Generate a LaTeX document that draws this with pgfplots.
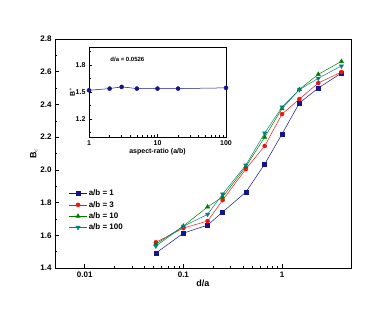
\documentclass[border=0pt]{standalone}
\usepackage{pgfplots}
\pgfplotsset{compat=1.18}
\usepackage{fontspec}
\setmainfont{Liberation Sans}
\definecolor{cnavy}{RGB}{20,20,140}
\definecolor{cred}{RGB}{240,20,20}
\definecolor{cgreen}{RGB}{0,125,0}
\definecolor{cteal}{RGB}{0,128,128}
\begin{document}
\begin{tikzpicture}[x=1pt,y=1pt]
\path[use as bounding box] (0,0) rectangle (390,316);
\begin{axis}[
  at={(55pt,48pt)}, anchor=south west,
  scale only axis, width=296pt, height=229pt,
  xmode=log, xmin=0.005, xmax=5, ymin=1.4, ymax=2.8,
  xtick={0.01,0.1,1}, xticklabels={0.01,0.1,1},
  ytick={1.4,1.6,...,2.8}, minor y tick num=1,
  yticklabel style={/pgf/number format/.cd,fixed,fixed zerofill,precision=1},
  /pgf/number format/assume math mode=true,
  tick align=inside, tick pos=left,
  major tick length=4pt, minor tick length=2pt,
  tick style={black, line width=0.5pt},
  axis line style={line width=0.8pt},
  ticklabel style={font=\fontsize{8}{9}\selectfont\bfseries},
  xlabel={d/a}, ylabel={B$_c$},
  label style={font=\fontsize{9}{10}\selectfont\bfseries},
  xlabel style={yshift=4pt},
  ylabel style={yshift=-4pt},
  legend style={at={(0.044,0.355)}, anchor=north west, draw=none, fill=none,
    font=\fontsize{8}{9}\selectfont\bfseries, row sep=0pt, inner sep=1pt},
  legend cell align=left,
  every axis plot/.append style={line width=0.5pt, mark size=2pt},
]
\addplot[cnavy, mark=square*, mark options={fill=cnavy}] coordinates {
(0.0526,1.491)(0.1,1.613)(0.176,1.662)(0.25,1.742)(0.43,1.864)(0.667,2.035)(1,2.219)(1.5,2.409)(2.33,2.500)(4,2.592)};
\addlegendentry{a/b = 1}
\addplot[cred, mark=*, mark options={fill=cred}] coordinates {
(0.0526,1.557)(0.1,1.644)(0.176,1.687)(0.25,1.815)(0.43,2.005)(0.667,2.146)(1,2.341)(1.5,2.433)(2.33,2.531)(4,2.598)};
\addlegendentry{a/b = 3}
\addplot[cgreen, mark=triangle*, mark options={fill=cgreen}, mark size=2.4pt] coordinates {
(0.0526,1.545)(0.1,1.656)(0.176,1.774)(0.25,1.834)(0.43,2.019)(0.667,2.200)(1,2.374)(1.5,2.492)(2.33,2.584)(4,2.663)};
\addlegendentry{a/b = 10}
\addplot[cteal, mark=triangle*, mark options={fill=cteal, rotate=180}, mark size=2.4pt] coordinates {
(0.0526,1.534)(0.1,1.655)(0.176,1.728)(0.25,1.852)(0.43,2.029)(0.667,2.225)(1,2.384)(1.5,2.490)(2.33,2.560)(4,2.635)};
\addlegendentry{a/b = 100}
\end{axis}
\begin{axis}[
  at={(89pt,179pt)}, anchor=south west,
  scale only axis, width=137pt, height=90pt,
  xmode=log, xmin=1, xmax=100, ymin=1.0, ymax=2.0,
  xtick={1,10,100}, xticklabels={1,10,100},
  ytick={1.2,1.5,1.8}, minor ytick={1.05,1.35,1.65,1.95},
  yticklabel style={/pgf/number format/.cd,fixed,fixed zerofill,precision=1},
  /pgf/number format/assume math mode=true,
  tick align=inside, tick pos=left,
  major tick length=3pt, minor tick length=1.5pt,
  tick style={black, line width=0.5pt},
  axis line style={line width=0.8pt},
  ticklabel style={font=\fontsize{7}{8}\selectfont\bfseries},
  xlabel={aspect-ratio (a/b)}, ylabel={B$^*$},
  label style={font=\fontsize{7}{8}\selectfont\bfseries},
  xlabel style={yshift=4pt},
  ylabel style={yshift=-6pt},
]
\addplot[cnavy, line width=0.5pt, mark=*, mark size=2pt, mark options={fill=cnavy}] coordinates {
(1,1.519)(2,1.538)(3,1.557)(5,1.538)(10,1.538)(20,1.538)(100,1.546)};
\node[font=\fontsize{6}{7}\selectfont\bfseries, anchor=center] at (rel axis cs:0.28,0.86) {d/a = 0.0526};
\end{axis}
\end{tikzpicture}
\end{document}
